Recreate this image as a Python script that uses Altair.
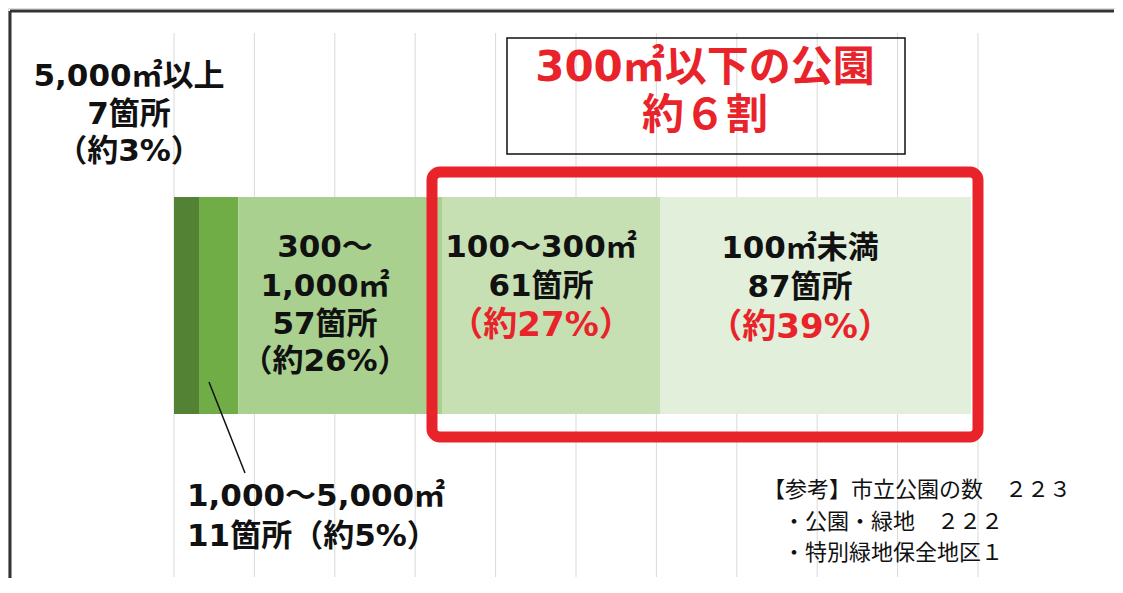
import altair as alt
import pandas as pd

# ---- data ----
categories = ["5,000㎡以上", "1,000～5,000㎡", "300～1,000㎡", "100～300㎡", "100㎡未満"]
counts = [7, 11, 57, 61, 87]
percents = ["約3%", "約5%", "約26%", "約27%", "約39%"]
seg_colors = ["#548235", "#70AD47", "#A9D08E", "#C6E0B4", "#E2EFDA"]
grid_ticks = [0, 22.5, 45, 67.5, 90, 112.5, 135, 157.5, 180, 202.5, 225]

title_lines = ["300㎡以下の公園", "約６割"]
ref_lines = ["【参考】市立公園の数　２２３", "・公園・緑地　２２２", "・特別緑地保全地区１"]

# ---- tables ----
starts, ends, acc = [], [], 0
for c in counts:
    starts.append(acc)
    acc += c
    ends.append(acc)
bars = pd.DataFrame({"cat": categories, "start": starts, "end": ends, "color": seg_colors})
grid = pd.DataFrame({"t": grid_ticks})

W, H = 1107, 570
RED = "#E8242A"
BOLD = "DejaVu Sans, Noto Sans CJK JP"
REG = "Noto Sans CJK JP"
LS = 31   # label font size
PS = 34   # red percent size

xscale = alt.Scale(domain=[0, 225], range=[166, 970])

gridlines = alt.Chart(grid).mark_rule(color="#d9d9d9", strokeWidth=1).encode(
    x=alt.X("t:Q", scale=xscale, axis=None),
    y=alt.value(25), y2=alt.value(569),
)

bar = alt.Chart(bars).mark_rect().encode(
    x=alt.X("start:Q", scale=xscale, axis=None),
    x2="end:Q",
    y=alt.value(189), y2=alt.value(406),
    color=alt.Color("color:N", scale=None),
)

black_box = alt.Chart(pd.DataFrame({"a": [0]})).mark_rect(
    fill="white", fillOpacity=0, stroke="#111111", strokeWidth=1.5
).encode(x=alt.value(499), x2=alt.value(897), y=alt.value(30), y2=alt.value(146))

red_box = alt.Chart(pd.DataFrame({"a": [0]})).mark_rect(
    fill="white", fillOpacity=0, stroke=RED, strokeWidth=11, cornerRadius=8
).encode(x=alt.value(424), x2=alt.value(970), y=alt.value(164), y2=alt.value(429))

bold_rows = []
def add(rows, text, px, py, color="#111111", size=LS):
    rows.append({"text": text, "px": px, "py": py, "color": color, "size": size})

# 5,000㎡以上
add(bold_rows, categories[0], 121, 69)
add(bold_rows, f"{counts[0]}箇所", 121, 107)
add(bold_rows, f"（{percents[0]}）", 121, 144)
# 300～1,000㎡
add(bold_rows, "300～", 317, 240)
add(bold_rows, "1,000㎡", 317, 279)
add(bold_rows, f"{counts[2]}箇所", 317, 317)
add(bold_rows, f"（{percents[2]}）", 317, 354)
# 100～300㎡
add(bold_rows, categories[3], 533, 240)
add(bold_rows, f"{counts[3]}箇所", 533, 279)
add(bold_rows, f"（{percents[3]}）", 533, 318, color=RED, size=PS)
# 100㎡未満
add(bold_rows, categories[4], 792, 241)
add(bold_rows, f"{counts[4]}箇所", 792, 280)
add(bold_rows, f"（{percents[4]}）", 792, 320, color=RED, size=PS)
# title
add(bold_rows, title_lines[0], 697, 60, color=RED, size=42)
add(bold_rows, title_lines[1], 697, 108, color=RED, size=42)

left_rows = []
add(left_rows, categories[1], 179, 489)
add(left_rows, f"{counts[1]}箇所（{percents[1]}）", 179, 529)

reg_rows = []
add(reg_rows, ref_lines[0], 755, 482, size=22)
add(reg_rows, ref_lines[1], 775, 514, size=22)
add(reg_rows, ref_lines[2], 775, 545, size=22)


def text_layer(rows, font, weight, align):
    df = pd.DataFrame(rows)
    return alt.Chart(df).mark_text(
        font=font, fontWeight=weight, align=align, baseline="middle"
    ).encode(
        x=alt.X("px:Q", scale=None, axis=None),
        y=alt.Y("py:Q", scale=None, axis=None),
        text="text:N",
        color=alt.Color("color:N", scale=None),
        size=alt.Size("size:Q", scale=None),
    )

t_bold = text_layer(bold_rows, BOLD, "bold", "center")
t_left = text_layer(left_rows, BOLD, "bold", "left")
t_reg = text_layer(reg_rows, REG, "normal", "left")

leader = alt.Chart(pd.DataFrame({"a": [0]})).mark_rule(color="#111111", strokeWidth=1.5).encode(
    x=alt.value(201), y=alt.value(374), x2=alt.value(237), y2=alt.value(465)
)

frame_top = alt.Chart(pd.DataFrame({"a": [0]})).mark_rule(color="#333333", strokeWidth=3).encode(
    x=alt.value(2), x2=alt.value(W - 1), y=alt.value(3)
)
frame_left = alt.Chart(pd.DataFrame({"a": [0]})).mark_rule(color="#333333", strokeWidth=3).encode(
    x=alt.value(2), y=alt.value(3), y2=alt.value(H)
)

chart = alt.layer(
    gridlines, bar, black_box, red_box, t_bold, t_left, t_reg, leader, frame_top, frame_left
).properties(
    width=W, height=H, autosize=alt.AutoSizeParams(type="none"), padding=0
).configure_view(strokeWidth=0).configure(background="white")

chart.save("out.html", embed_options={"renderer": "svg", "actions": False})
